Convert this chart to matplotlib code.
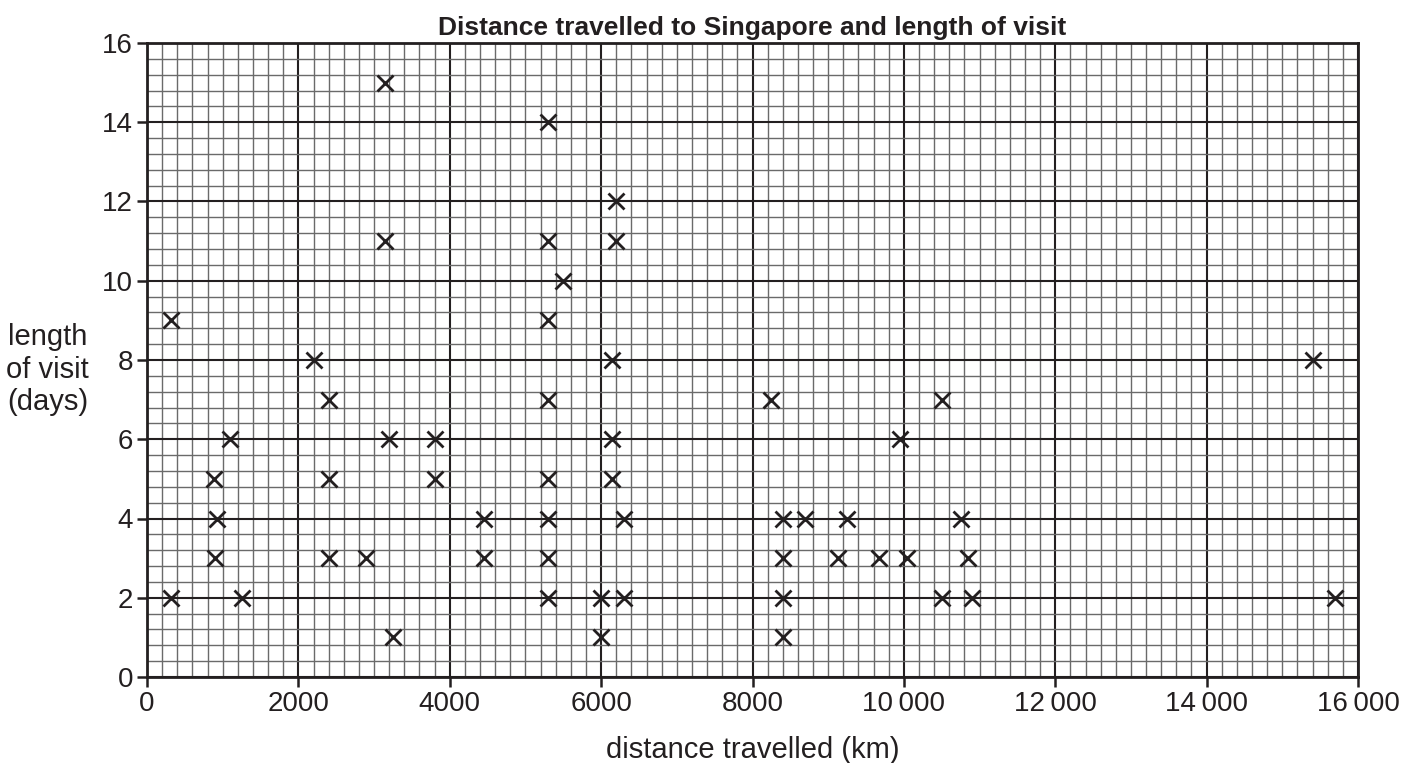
import matplotlib
matplotlib.use("Agg")
import matplotlib.pyplot as plt
from matplotlib.ticker import MultipleLocator, FuncFormatter

plt.rcParams['font.family'] = ['Liberation Sans', 'DejaVu Sans']

# distance travelled (km) and length of visit (days)
distance = [320, 320, 900, 920, 890, 1100, 1250,
            2200, 2400, 2400, 2400, 2900, 3150, 3150, 3200, 3250, 3800, 3800,
            4450, 4450,
            5300, 5300, 5300, 5300, 5300, 5300, 5300, 5300, 5500,
            6000, 6000, 6150, 6150, 6150, 6200, 6200, 6300, 6300,
            8250, 8400, 8400, 8400, 8400, 8700, 9130, 9250, 9675, 9950, 10035,
            10500, 10500, 10750, 10850, 10900,
            15400, 15700]
days = [2, 9, 3, 4, 5, 6, 2,
        8, 7, 5, 3, 3, 15, 11, 6, 1, 6, 5,
        4, 3,
        14, 11, 9, 7, 5, 4, 3, 2, 10,
        2, 1, 8, 6, 5, 12, 11, 4, 2,
        7, 4, 3, 2, 1, 4, 3, 4, 3, 6, 3,
        7, 2, 4, 3, 2,
        8, 2]

ink = "#231f20"

fig = plt.figure(figsize=(14.16, 7.63), dpi=100)
ax = fig.add_axes([147/1416, 86/763, 1211/1416, 634/763])

ax.set_xlim(0, 16000)
ax.set_ylim(0, 16)
ax.xaxis.set_major_locator(MultipleLocator(2000))
ax.xaxis.set_minor_locator(MultipleLocator(200))
ax.yaxis.set_major_locator(MultipleLocator(2))
ax.yaxis.set_minor_locator(MultipleLocator(0.4))

ax.grid(which='minor', color="#6a6a6a", linewidth=1.0)
ax.grid(which='major', color=ink, linewidth=1.5)
ax.set_axisbelow(True)

def fmt(v, pos):
    v = int(v)
    if v >= 10000:
        return "{}\u2009{:03d}".format(v // 1000, v % 1000)
    return str(v)

ax.xaxis.set_major_formatter(FuncFormatter(fmt))
ax.tick_params(which='major', direction='out', length=7, width=1.8, color=ink,
               labelsize=20, labelcolor=ink, pad=3)
ax.tick_params(which='minor', length=0)
for s in ax.spines.values():
    s.set_color(ink)
    s.set_linewidth(2)

ax.plot(distance, days, linestyle='none', marker='x', markersize=11,
        markeredgewidth=2, color=ink, zorder=3, clip_on=False)

ax.set_xlabel("distance travelled (km)", fontsize=21, color=ink, labelpad=14)
ax.set_ylabel("length\nof visit\n(days)", fontsize=21, color=ink, rotation=0,
              ha='center', va='center', linespacing=1.22)
ax.yaxis.set_label_coords(-0.082, 0.485)
ax.set_title("Distance travelled to Singapore and length of visit",
             fontsize=19, fontweight='bold', color=ink, pad=6)

fig.savefig("out.png", dpi=100)
